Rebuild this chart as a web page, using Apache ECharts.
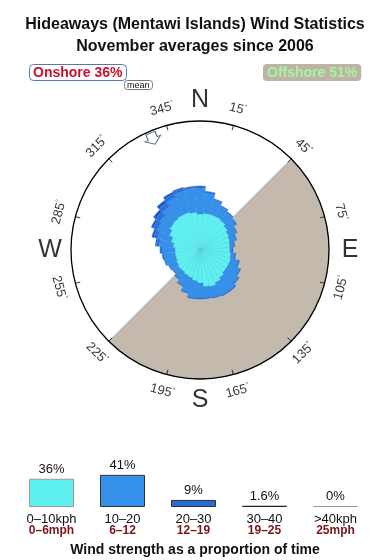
<!DOCTYPE html>
<html><head><meta charset="utf-8">
<script src="https://cdn.jsdelivr.net/npm/echarts@6/dist/echarts.min.js"></script>
<style>html,body{margin:0;padding:0;background:#fff}#c{width:390px;height:560px}</style>
</head><body><div id="c"></div>
<script>
// ---- data ----
const directions = [0,10,20,30,40,50,60,70,80,90,100,110,120,130,140,150,160,170,180,190,200,210,220,230,240,250,260,270,280,290,300,310,320,330,340,350];
// radial extent per speed band (stacked), read from the rose
const band0to10  = [36,37,37,37,36,34,32,31,30,30,31,32,32,32,34,36,38,37,33,31,29,28,27,27,26,25,25,25,27,30,34,37,38,39,39,38];
const band10to20 = [26,20,15,11,10,10,8,6,4,2,4,8,12,15,16,14,11,11,15,17,15,11,8,6,8,11,11,13,14,14,13,12,15,19,22,24];
const band20to30 = [2,2,1,1,1,1,1,1,1,1,1,1,1,1,1,1,1,1,1,1,1,1,1,1,1,1,2,2,3,4,5,5,5,4,3,2];
const band30to40 = [0,0,0,0,0,0,0,0,0,0,0,0,0,0,0,0,0,0,0,0,0,0,0,0,0,0,0,0,1,2,2,3,3,2,1,0];
const offshoreSector = [45, 225];
const meanDirection = 337;
const degreeTicks = [15,45,75,105,135,165,195,225,255,285,315,345];
const compassNames = ['N','E','S','W'];
const compassAngles = [0,90,180,270];
const speedKph = ['0–10kph','10–20','20–30','30–40','>40kph'];
const speedMph = ['0–6mph','6–12','12–19','19–25','25mph'];
const speedShare = [36,41,9,1.6,0];
const onshorePct = 36, offshorePct = 51;

// ---- styles ----
const FONT = '"Liberation Sans", Arial, sans-serif';
const C = [200, 250], R = 129;
const bandColors = ['#5ff0f0','#3490e8','#2a72dc','#1f58c4'];
const legendFill = ['#5ff0f0','#3490e8','#2a6ad8','#223','#999'];
const legendBorder = ['#999','#333','#333','#223','#999'];
const CLEAR = 'rgba(0,0,0,0)';

function tangentRotate(a){
  let t = a;
  if (t > 90 && t < 270) t = t - 180;
  else if (t >= 270) t = t - 360;
  return -t;
}

const roseSeries = [band0to10, band10to20, band20to30, band30to40].map((d, i) => ({
  type:'bar', coordinateSystem:'polar', polarIndex:0, stack:'wind', silent:true,
  barCategoryGap:'0%', data:d, z:3,
  itemStyle:{color:bandColors[i], borderColor: i===0 ? 'rgba(70,205,225,0.55)' : 'rgba(40,110,210,0.35)', borderWidth:0.5}
}));

const option = {
  animation:false,
  textStyle:{fontFamily:FONT},
  title:[
    {text:'Hideaways (Mentawi Islands) Wind Statistics\nNovember averages since 2006', left:'center', top:9,
     textStyle:{fontSize:16, fontWeight:'bold', lineHeight:22, fontFamily:FONT, color:'#111'}},
    {text:'Onshore ' + onshorePct + '%', left:29, top:64, padding:[2,4,1,4], backgroundColor:'#fff', borderColor:'#5a78a8', borderWidth:1, borderRadius:4,
     textStyle:{fontSize:14, fontWeight:'bold', color:'#cc1030', fontFamily:FONT}},
    {text:'mean', left:124, top:80, padding:[1,3,0,3], backgroundColor:'#fff', borderColor:'#777', borderWidth:1, borderRadius:3,
     textStyle:{fontSize:9, fontWeight:'normal', color:'#111', fontFamily:FONT}},
    {text:'Offshore ' + offshorePct + '%', left:263, top:64, padding:[2,4,1,4], backgroundColor:'#beb3a6', borderRadius:4,
     textStyle:{fontSize:14, fontWeight:'bold', color:'#a6f5a0', fontFamily:FONT}},
    {text:'Wind strength as a proportion of time', left:'center', top:538,
     textStyle:{fontSize:14, fontWeight:'bold', color:'#111', fontFamily:FONT}}
  ],
  polar:[{center:C, radius:R},{center:C, radius:R}],
  angleAxis:[
    {polarIndex:0, type:'category', data:directions, startAngle:95, clockwise:true, boundaryGap:true,
     axisLine:{show:false}, axisTick:{show:false}, axisLabel:{show:false}, splitLine:{show:false}},
    {polarIndex:1, type:'value', min:-15, max:345, interval:30, startAngle:105, clockwise:true, z:6,
     axisLine:{lineStyle:{color:'#000', width:1.3}}, axisTick:{inside:true, length:5, lineStyle:{color:'#333'}},
     axisLabel:{show:false}, splitLine:{show:false}}
  ],
  radiusAxis:[
    {polarIndex:0, min:0, max:R, show:false},
    {polarIndex:1, min:0, max:R, show:false}
  ],
  grid:{left:16, right:19, top:467, bottom:53},
  xAxis:{type:'category', data:speedKph, axisLine:{show:false}, axisTick:{show:false},
    axisLabel:{margin:7, interval:0, formatter:(v,i)=>'{k|'+v+'}\n{m|'+speedMph[i]+'}',
      rich:{k:{fontSize:13, color:'#111', lineHeight:11, fontFamily:FONT},
            m:{fontSize:12, fontWeight:'bold', color:'#7a1515', lineHeight:11, fontFamily:FONT}}}},
  yAxis:{type:'value', min:0, max:51, show:false},
  series:[
    {type:'pie', center:C, radius:R, startAngle:90 - offshoreSector[0], clockwise:true, silent:true, z:1,
     label:{show:false}, labelLine:{show:false},
     data:[
       {value:offshoreSector[1]-offshoreSector[0], itemStyle:{color:'#c4b9ad', borderColor:'#a9c6e6', borderWidth:1}},
       {value:360-(offshoreSector[1]-offshoreSector[0]), itemStyle:{color:CLEAR, borderWidth:0}}
     ]},
    ...roseSeries,
    {type:'scatter', coordinateSystem:'polar', polarIndex:1, silent:true, clip:false, z:7,
     symbol:'path://M3,0 L11,0 L11,6 L14,6 L7,12 L0,6 L3,6 Z', symbolSize:[17,12], symbolRotate:360-meanDirection,
     itemStyle:{color:'#fff', borderColor:'#2d4a6a', borderWidth:1},
     data:[[121, meanDirection]]},
    {type:'scatter', coordinateSystem:'polar', polarIndex:1, silent:true, clip:false, z:7,
     symbolSize:1, itemStyle:{color:CLEAR},
     data:degreeTicks.map(a=>({value:[146,a], label:{rotate:tangentRotate(a)}})),
     label:{show:true, position:'inside', formatter:p=>p.value[1]+'{d|°}', fontSize:13, color:'#000', fontFamily:FONT,
       rich:{d:{fontSize:7, color:'#000', padding:[0,0,7,0]}}}},
    {type:'scatter', coordinateSystem:'polar', polarIndex:1, silent:true, clip:false, z:7,
     symbolSize:1, itemStyle:{color:CLEAR},
     data:compassAngles.map((a,i)=>({value:[150,a], name:compassNames[i]})),
     label:{show:true, position:'inside', formatter:p=>p.name, fontSize:25, color:'#000', fontFamily:FONT}},
    {type:'bar', xAxisIndex:0, yAxisIndex:0, barWidth:45, barMinHeight:1, silent:true,
     data:speedShare.map((v,i)=>({value:v, itemStyle:{color:legendFill[i], borderColor:legendBorder[i], borderWidth:1}})),
     label:{show:true, position:'top', distance:3, formatter:p=>p.value+'%', fontSize:13, color:'#111', fontFamily:FONT}}
  ]
};
const chart = echarts.init(document.getElementById('c'), null, {renderer:'canvas'});
chart.setOption(option);
</script>
</body></html>
